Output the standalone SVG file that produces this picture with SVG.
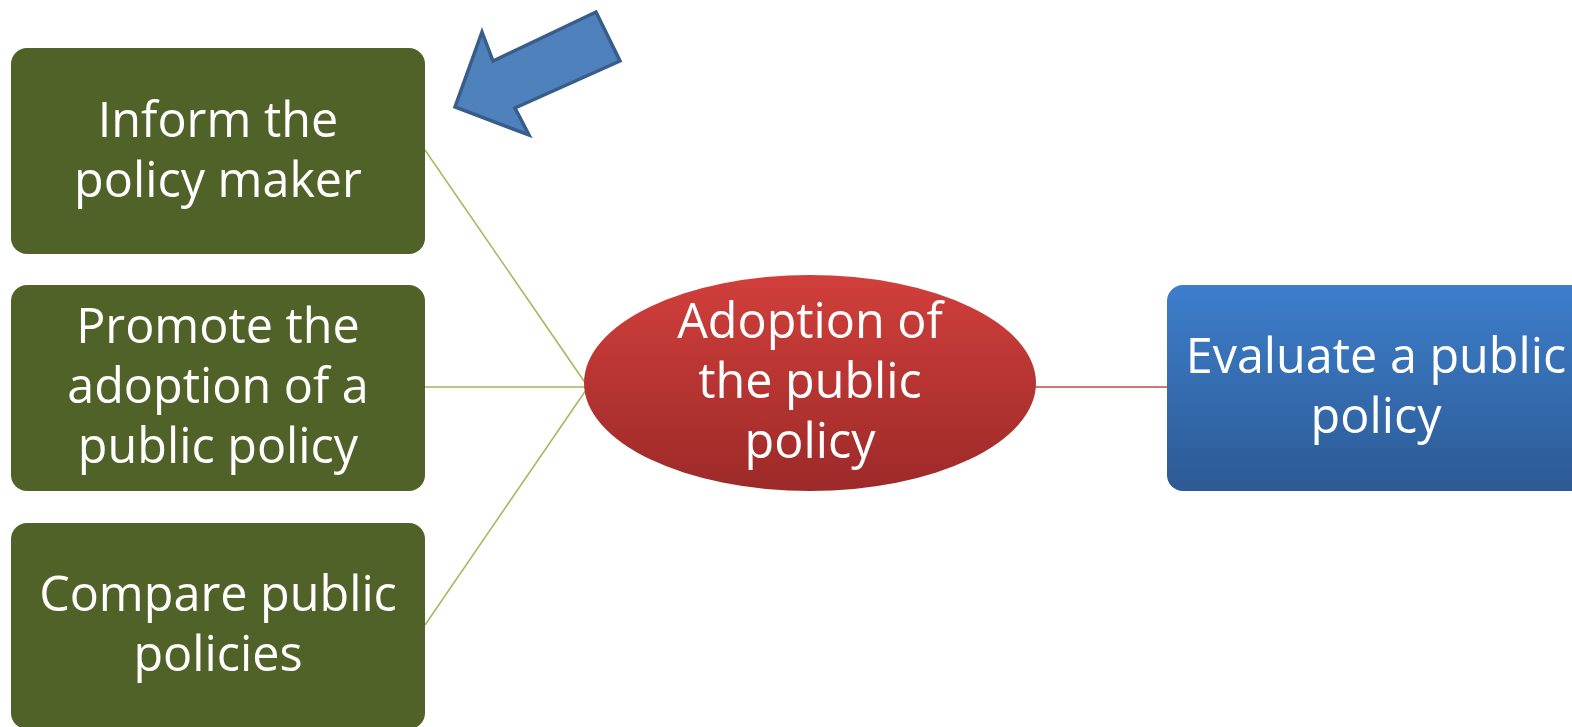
<svg xmlns="http://www.w3.org/2000/svg" width="1572" height="727" viewBox="0 0 1572 727">
<defs>
<linearGradient id="gRed" x1="0" y1="0" x2="0" y2="1">
<stop offset="0" stop-color="#d13f3b"/><stop offset="1" stop-color="#9c2a29"/>
</linearGradient>
<linearGradient id="gBlue" x1="0" y1="0" x2="0" y2="1">
<stop offset="0" stop-color="#3d7ecb"/><stop offset="1" stop-color="#2c5a94"/>
</linearGradient>
<style>
.g{fill:#506228;}
.t{font-family:"Open Sans","Noto Sans",sans-serif;font-size:48.5px;fill:#ffffff;text-anchor:middle;}
.lg{stroke:#9bbb59;stroke-width:1.5;fill:none;}
.lr{stroke:#be4b48;stroke-width:1.5;fill:none;}
</style>
</defs>
<rect width="1572" height="727" fill="#ffffff"/>
<g id="connectors">
<line class="lg" x1="425" y1="150" x2="586" y2="384"/>
<line class="lg" x1="425" y1="387" x2="586" y2="387"/>
<line class="lg" x1="425" y1="625" x2="586" y2="390"/>
<line class="lr" x1="1035" y1="387" x2="1168" y2="387"/>
</g>
<g id="node-inform">
<rect class="g" x="11" y="48" width="414" height="206" rx="16"/>
<text class="t" x="218" y="137">Inform the</text>
<text class="t" x="218" y="197">policy maker</text>
</g>
<g id="node-promote">
<rect class="g" x="11" y="285" width="414" height="206" rx="16"/>
<text class="t" x="218" y="343">Promote the</text>
<text class="t" x="218" y="403">adoption of a</text>
<text class="t" x="218" y="463">public policy</text>
</g>
<g id="node-compare">
<rect class="g" x="11" y="523" width="414" height="206" rx="16"/>
<text class="t" x="218" y="611">Compare public</text>
<text class="t" x="218" y="671">policies</text>
</g>
<g id="node-adoption">
<ellipse cx="810" cy="383" rx="226" ry="108" fill="url(#gRed)"/>
<text class="t" x="810" y="338">Adoption of</text>
<text class="t" x="810" y="398">the public</text>
<text class="t" x="810" y="458">policy</text>
</g>
<g id="node-evaluate">
<rect x="1167" y="285" width="420" height="206" rx="16" fill="url(#gBlue)"/>
<text class="t" x="1376" y="373">Evaluate a public</text>
<text class="t" x="1376" y="433">policy</text>
</g>
<g id="arrow">
<polygon points="482,32 493,61 596,12 620,61 515,108 529,135 455,107" fill="#4f81bd" stroke="#385d8a" stroke-width="3.5" stroke-linejoin="miter"/>
</g>
</svg>
